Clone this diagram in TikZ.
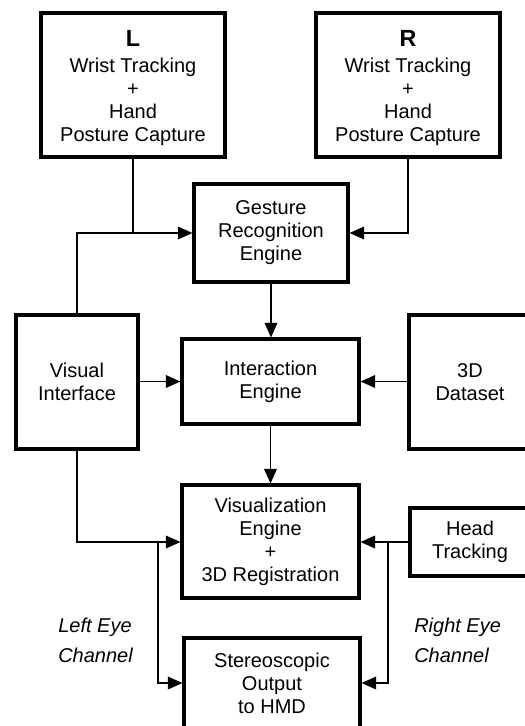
\documentclass[tikz,border=0pt]{standalone}
\usepackage{fontspec}
\setmainfont{Liberation Sans}
\usetikzlibrary{arrows.meta}
\tikzset{
  box/.style={draw, line width=2.3pt, inner sep=0pt, align=center,
    font=\fontsize{15}{17.25}\selectfont},
  conn/.style={line width=1.2pt},
  arr/.style={conn, -{Triangle[length=11pt,width=9.5pt]}},
  lbl/.style={inner sep=0pt, align=left, anchor=west,
    font=\fontsize{15}{22.5}\selectfont\itshape},
  big/.style={}
}
\newcommand{\bigletter}[1]{\rule{0pt}{16.5pt}{\fontsize{17.5}{18}\selectfont\bfseries #1}}
\begin{document}
\begin{tikzpicture}[x=0.75pt,y=-0.75pt]
\useasboundingbox (0,0) rectangle (525,726);
\clip (0,0) rectangle (525,726);
\fill[white] (0,0) rectangle (525,726);
% boxes
\node[box, minimum width=138pt, minimum height=108pt] (L) at (133,85)
  {\bigletter{L}\\[2.5pt]Wrist Tracking\\+\\Hand\\Posture Capture};
\node[box, minimum width=138pt, minimum height=108pt] (R) at (408,85)
  {\bigletter{R}\\[2.5pt]Wrist Tracking\\+\\Hand\\Posture Capture};
\node[box, minimum width=115.5pt, minimum height=73.5pt] (G) at (271,233)
  {Gesture\\Recognition\\Engine};
\node[box, minimum width=91.5pt, minimum height=100.5pt] (V) at (77,382)
  {Visual\\Interface};
\node[box, minimum width=132.75pt, minimum height=63.75pt] (I) at (270.5,381.5)
  {Interaction\\Engine};
\node[box, minimum width=91.5pt, minimum height=100.5pt] (D) at (470,382)
  {3D\\Dataset};
\node[box, minimum width=132.75pt, minimum height=84.75pt] (Z) at (270.5,541.5)
  {Visualization\\Engine\\+\\3D Registration};
\node[box, minimum width=90pt, minimum height=51pt] (H) at (470,542)
  {Head\\Tracking};
\node[box, minimum width=132pt, minimum height=67.5pt] (S) at (272,683)
  {Stereoscopic\\Output\\to HMD};
% labels
\node[lbl] (le) at (58,640) {Left Eye\\Channel};
\node[lbl] (re) at (414,640) {Right Eye\\Channel};
% coordinates
\coordinate (j1) at (77,233);
\coordinate (j2) at (133,233);
\coordinate (j3) at (408,233);
\coordinate (j4) at (77,542);
\coordinate (j5) at (158,542);
\coordinate (j6) at (158,683);
\coordinate (j7) at (388,542);
\coordinate (j8) at (388,683);
% connectors
\draw[conn] (L.south) -- (j2);
\draw[arr] (V.north) -- (j1) -- (G.west |- j1);
\draw[arr] (R.south) -- (j3) -- (G.east |- j3);
\draw[arr] (G.south) -- (G.south |- I.north);
\draw[arr] (V.east |- I.west) -- (I.west);
\draw[arr] (D.west |- I.east) -- (I.east);
\draw[arr] (I.south) -- (I.south |- Z.north);
\draw[arr] (V.south) -- (j4) -- (Z.west |- j4);
\draw[arr] (j5) -- (j6) -- (S.west |- j6);
\draw[arr] (H.west |- j7) -- (Z.east |- j7);
\draw[arr] (j7) -- (j8) -- (S.east |- j8);
\end{tikzpicture}
\end{document}
